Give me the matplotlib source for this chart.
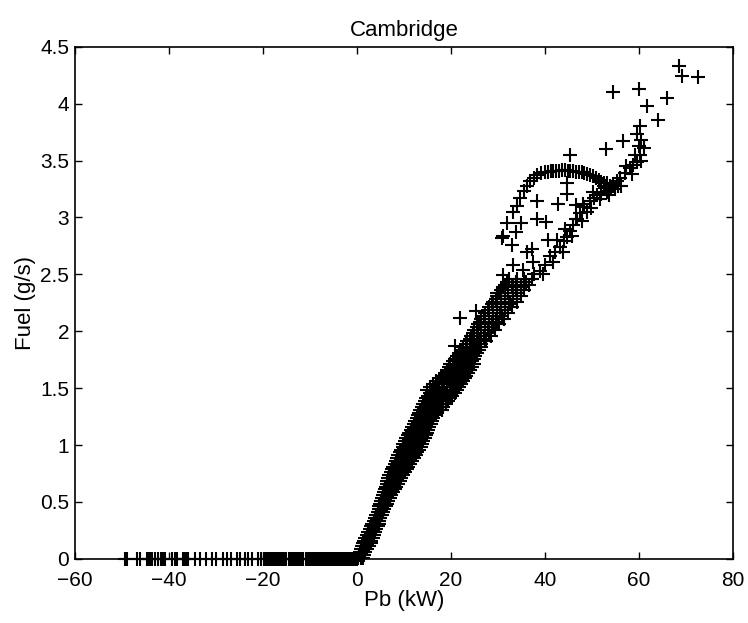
import matplotlib
matplotlib.use('Agg')
import matplotlib.pyplot as plt

plt.rcParams['font.family'] = ['Liberation Sans', 'DejaVu Sans']

# engine braking / idle points (no fuel)
idle_pb = [-49.4, -49.0, -46.7, -46.2, -44.7, -44.3, -44.0, -43.5, -43.0, -42.3,
           -41.6, -41.2, -40.9, -39.4, -38.7, -38.2, -37.0, -36.7, -36.4, -35.9,
           -34.5, -33.4, -32.0, -30.9, -29.9, -28.4, -27.7, -26.7, -25.6, -24.9,
           -23.8, -23.1, -22.4, -21.0, -20.3, -19.8, -19.4, -18.9, -18.5, -18.1,
           -17.6, -17.2, -16.8, -16.3, -15.9, -15.5, -15.0, -14.5, -14.1, -13.6,
           -13.2, -12.7, -12.3, -11.9, -11.4, -10.8, -10.3, -9.9, -9.6, -9.2,
           -8.9, -8.5, -8.2, -7.8, -7.5, -7.1, -6.8, -6.4, -6.1, -5.7, -5.4,
           -5.0, -4.7, -4.3, -4.0, -3.6, -3.3, -2.9, -2.6, -2.2, -1.9, -1.5,
           -1.2, -0.9, -0.6, -0.3, 0.0]

# main band: fuel level of each row and the Pb values seen on that row
band_levels = [0.010, 0.035, 0.060, 0.085, 0.110, 0.135, 0.160, 0.185, 0.210, 0.235,
               0.260, 0.285, 0.310, 0.335, 0.360, 0.385, 0.410, 0.435, 0.460, 0.485,
               0.510, 0.535, 0.560, 0.585, 0.610, 0.635, 0.660, 0.685, 0.710, 0.735,
               0.760, 0.785, 0.810, 0.835, 0.860, 0.885, 0.910, 0.935, 0.960, 0.985,
               1.010, 1.035, 1.060, 1.085, 1.110, 1.135, 1.160, 1.185, 1.210, 1.235,
               1.260, 1.285, 1.310, 1.335, 1.360, 1.385, 1.410, 1.435, 1.460, 1.485,
               1.510, 1.535, 1.560, 1.585, 1.610, 1.635, 1.660, 1.685, 1.710, 1.735,
               1.760, 1.785, 1.810, 1.835, 1.860,
               1.885, 1.910, 1.935, 1.960, 1.985, 2.010, 2.035, 2.060, 2.085, 2.110,
               2.135, 2.160, 2.185, 2.210, 2.235, 2.260, 2.285, 2.310, 2.335, 2.360,
               2.385, 2.410, 2.435, 2.460]
band_pb = [
    [0.3, 0.8, 1.2], [0.5, 1.0, 1.5], [0.6, 1.2, 1.8], [0.8, 1.5, 2.2],
    [1.1, 1.8, 2.6], [1.3, 2.0, 2.9], [1.6, 2.3, 3.1], [1.8, 2.6, 3.4],
    [2.1, 2.9, 3.7], [2.4, 3.2, 3.9], [2.7, 3.4, 4.1], [3.0, 3.7, 4.4],
    [3.3, 4.0, 4.6], [3.6, 4.2, 4.8], [3.8, 4.5, 5.0], [4.1, 4.7, 5.3],
    [4.4, 5.0, 5.5], [4.6, 5.2, 5.8], [4.8, 5.4, 6.1], [5.0, 5.7, 6.4],
    [5.2, 5.9, 6.7], [5.3, 6.1, 7.0], [5.5, 6.3, 7.3], [5.7, 6.6, 7.6],
    [5.9, 6.7, 7.4, 8.0], [6.1, 6.9, 7.7, 8.4], [6.3, 7.1, 8.0, 8.7],
    [6.5, 7.3, 8.2, 9.1], [6.7, 7.6, 8.5, 9.4], [6.9, 7.8, 8.8, 9.8],
    [7.2, 8.1, 9.1, 10.2], [7.4, 8.4, 9.4, 10.6], [7.7, 8.7, 9.8, 10.9],
    [8.0, 9.0, 10.1, 11.3], [8.3, 9.3, 10.4, 11.7], [8.5, 9.6, 10.8, 12.1],
    [8.8, 9.9, 11.1, 12.5], [9.1, 10.2, 11.3, 12.0, 12.8],
    [9.4, 10.4, 11.5, 12.4, 13.2], [9.7, 10.7, 11.8, 12.7, 13.6],
    [9.9, 10.9, 12.0, 13.0, 13.9], [10.2, 11.2, 12.3, 13.3, 14.1],
    [10.5, 11.5, 12.6, 13.6, 14.4], [10.8, 11.8, 12.9, 13.9, 14.7],
    [11.1, 12.1, 13.1, 14.1, 14.9], [11.4, 12.4, 13.4, 14.4, 15.2],
    [11.8, 12.7, 13.7, 14.6, 15.4], [12.1, 13.0, 14.0, 14.9, 15.7],
    [12.4, 13.3, 14.3, 15.1, 15.9], [12.7, 13.6, 14.5, 15.4, 16.2],
    [13.0, 13.9, 14.8, 15.7, 16.5], [13.2, 14.2, 15.1, 16.0, 16.8],
    [13.5, 14.5, 15.4, 16.3, 17.2, 18.0], [13.8, 14.8, 15.7, 16.7, 17.6, 18.4],
    [14.1, 15.1, 16.0, 17.0, 18.0, 18.9], [14.4, 15.4, 16.4, 17.4, 18.4, 19.3],
    [14.8, 15.8, 16.8, 17.8, 18.9, 19.8], [15.2, 16.2, 17.2, 18.3, 19.4, 20.3],
    [15.6, 16.6, 17.6, 18.7, 19.9, 20.8], [15.0, 16.0, 17.1, 18.1, 19.2, 20.4, 21.3],
    [15.6, 16.5, 17.5, 18.6, 19.7, 20.8, 21.7], [16.2, 17.0, 18.0, 19.1, 20.2, 21.2, 22.1],
    [16.8, 17.4, 18.5, 19.6, 20.6, 21.7, 22.6], [17.9, 18.9, 20.0, 21.1, 22.1, 23.0],
    [18.3, 19.4, 20.4, 21.5, 22.5, 23.3], [18.7, 19.8, 20.8, 21.9, 22.9, 23.7],
    [19.1, 20.2, 21.2, 22.3, 23.2, 24.0], [19.5, 20.6, 21.6, 22.7, 23.6, 24.4],
    [19.9, 21.0, 22.0, 23.0, 24.0, 24.8], [20.4, 21.4, 22.4, 23.4, 24.4],
    [20.8, 21.8, 22.8, 23.8, 24.8], [21.2, 22.2, 23.2, 24.2, 25.2],
    [21.7, 22.7, 23.6, 24.6, 25.6], [22.1, 23.1, 24.0, 25.0, 26.0],
    [22.6, 23.5, 24.5, 25.4, 26.4],
    [23.2, 24.8, 26.4], [23.5, 24.9, 26.2, 27.5], [24.0, 25.6, 27.2],
    [24.3, 25.7, 27.1, 28.5], [24.7, 26.4, 28.2], [25.0, 26.5, 27.9, 29.4],
    [25.5, 27.2, 29.0], [25.8, 27.3, 28.8, 30.3], [26.2, 28.0, 29.9],
    [26.4, 28.0, 29.6, 31.2], [27.0, 28.9, 30.8], [27.3, 28.9, 30.5, 32.1],
    [27.9, 29.8, 31.6], [28.2, 29.8, 31.4, 33.0], [28.7, 30.6, 32.5],
    [29.0, 30.7, 32.3, 34.0], [29.5, 31.4, 33.3], [29.8, 31.5, 33.1, 34.8],
    [30.3, 32.1, 34.1], [30.6, 32.2, 33.9, 35.5], [31.1, 33.0, 34.9],
    [31.5, 33.2, 34.8, 36.5], [31.9, 33.8, 35.9], [32.3, 34.0, 35.6, 37.3],
]

# scattered points, the loop and the high power end
upper_pb = [21.9, 20.9, 25.4, 29.7,
            37.6, 38.9, 40.0, 41.1, 42.2, 43.2, 44.0, 44.6, 45.4, 46.0, 46.8, 47.4,
            48.4, 49.6, 50.4, 51.0, 52.0, 53.1, 54.0, 54.5, 55.3, 55.9, 57.0, 58.1,
            58.8, 59.5, 60.2,
            39.5, 41.8, 43.8, 45.8, 47.8, 49.8, 51.8, 53.6, 56.2, 58.5, 60.5, 42.5,
            44.2, 48.0, 50.2, 52.6, 57.2, 59.2,
            31.1, 33.3, 35.4, 37.5, 36.1, 37.2, 31.1, 32.9, 33.9, 35.0, 38.2, 40.3,
            40.7, 38.2, 42.8, 44.6, 44.6, 46.7, 48.9, 46.7,
            30.8, 32.0, 33.3, 34.0, 34.7, 35.5, 36.2, 36.8, 37.6, 38.4, 39.2, 40.0,
            40.6, 41.2, 41.8, 42.4, 43.0, 43.6, 44.2, 44.8, 45.4, 46.0, 46.6, 47.2,
            47.8, 48.4, 49.0, 49.6, 50.2, 50.8, 51.4, 52.0, 52.6, 53.2, 53.8, 52.8,
            53.5, 54.8, 55.5,
            45.3, 53.0, 56.7, 59.5, 60.2, 60.5, 61.0, 60.0, 61.6, 64.1, 65.9, 60.1,
            54.4, 68.6, 69.1, 72.6]
upper_fuel = [2.12, 1.87, 2.18, 2.34,
              2.50, 2.53, 2.58, 2.66, 2.70, 2.74, 2.79, 2.83, 2.88, 2.93, 2.99, 3.04,
              3.09, 3.14, 3.17, 3.20, 3.21, 3.23, 3.27, 3.29, 3.32, 3.35, 3.39, 3.43,
              3.46, 3.49, 3.55,
              2.50, 2.61, 2.70, 2.84, 2.97, 3.08, 3.16, 3.20, 3.28, 3.38, 3.50, 2.80,
              2.90, 3.12, 3.22, 3.28, 3.45, 3.55,
              2.49, 2.58, 2.54, 2.61, 2.70, 2.72, 2.84, 2.76, 2.87, 2.95, 2.99, 2.96,
              2.80, 3.14, 3.12, 3.21, 3.30, 3.11, 3.05, 2.99,
              2.82, 2.95, 3.05, 3.10, 3.17, 3.23, 3.28, 3.32, 3.35, 3.37, 3.39, 3.40,
              3.40, 3.41, 3.41, 3.41, 3.41, 3.42, 3.42, 3.41, 3.41, 3.41, 3.40, 3.40,
              3.40, 3.39, 3.38, 3.37, 3.36, 3.35, 3.33, 3.31, 3.30, 3.30, 3.28, 3.26,
              3.22, 3.25, 3.28,
              3.55, 3.60, 3.67, 3.73, 3.80, 3.68, 3.61, 3.63, 3.98, 3.86, 4.05, 4.13,
              4.10, 4.33, 4.24, 4.23]

pb = list(idle_pb)
fuel = [0.0] * len(idle_pb)
for level, row in zip(band_levels, band_pb):
    pb += row
    fuel += [level] * len(row)
pb += upper_pb
fuel += upper_fuel

fig = plt.figure(figsize=(7.48, 6.23), dpi=100)
ax = fig.add_axes([0.100, 0.103, 0.880, 0.822])

ax.plot(pb, fuel, '+', color='black', markersize=9.5, markeredgewidth=1.5,
        clip_on=False)

ax.set_xlim(-60, 80)
ax.set_ylim(0, 4.5)
ax.set_xticks([-60, -40, -20, 0, 20, 40, 60, 80])
ax.set_yticks([0, 0.5, 1, 1.5, 2, 2.5, 3, 3.5, 4, 4.5])
ax.set_yticklabels(['0', '0.5', '1', '1.5', '2', '2.5', '3', '3.5', '4', '4.5'])
ax.tick_params(direction='in', top=True, right=True, length=5, width=1,
               labelsize=15)
ax.tick_params(axis='x', pad=9)
ax.tick_params(axis='y', pad=4)
for s in ax.spines.values():
    s.set_linewidth(1.2)

ax.set_title('Cambridge', fontsize=16, pad=8)
ax.set_xlabel('Pb (kW)', fontsize=16, labelpad=0)
ax.set_ylabel('Fuel (g/s)', fontsize=16, labelpad=3)

fig.savefig('out.png', dpi=100)
